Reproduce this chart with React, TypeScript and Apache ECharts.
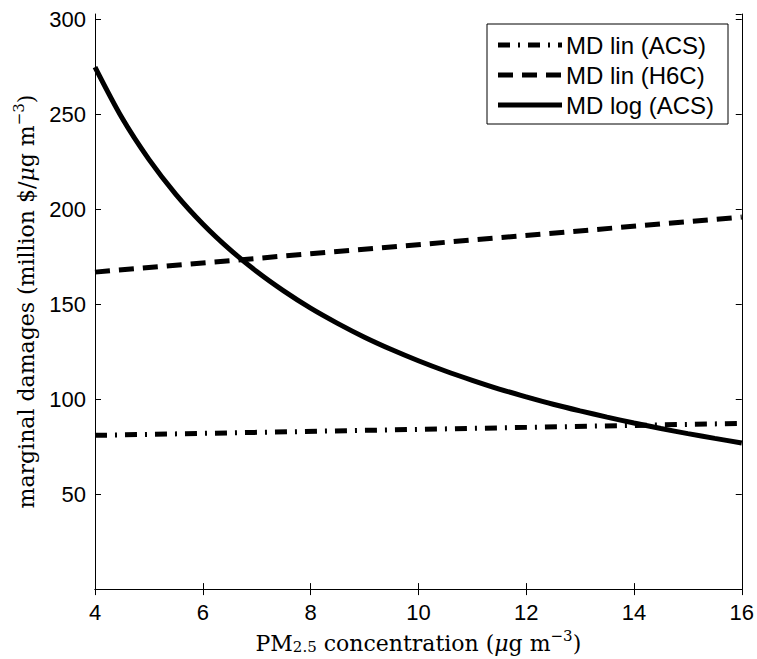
import React, { useEffect, useRef } from "react";
import * as echarts from "echarts";

const xTicks = [4, 6, 8, 10, 12, 14, 16];
const linAcsX = [4, 16];
const linAcsY = [81.0, 87.3];
const linH6cX = [4, 16];
const linH6cY = [167, 196];
const logAcsX = [4, 4.5, 5, 5.5, 6, 6.5, 7, 7.5, 8, 8.5, 9, 9.5, 10, 10.5, 11, 11.5, 12, 12.5, 13, 13.5, 14, 14.5, 15, 15.5, 16];
const logAcsY = [275, 248.3, 226.4, 208, 192.4, 179, 167.3, 157.1, 148, 140, 132.7, 126.2, 120.3, 114.9, 110, 105.4, 101.3, 97.4, 93.9, 90.6, 87.5, 84.6, 81.9, 79.4, 77];
const seriesNames = ["MD lin (ACS)", "MD lin (H6C)", "MD log (ACS)"];

const zip = (xs: number[], ys: number[]) => xs.map((x, i) => [x, ys[i]]);

const DASHDOT = [12, 8, 2, 8];
const DASHED = [15, 9];

export default function App() {
  const ref = useRef<HTMLDivElement>(null);
  useEffect(() => {
    if (!ref.current) return;
    const chart = echarts.init(ref.current, undefined, { renderer: "svg" });
    const sans = "Liberation Sans";
    const serif = "DejaVu Serif";
    const tickFont = 22;
    const axisCommon = {
      axisLine: { show: true, lineStyle: { color: "#000", width: 1 } },
      axisTick: { show: true, inside: true, length: 6, lineStyle: { color: "#000", width: 1 } },
      splitLine: { show: false },
    };
    const tf = 22;
    const serifRich = {
      n: { fontFamily: serif, fontSize: tf, color: "#000", lineHeight: 26, verticalAlign: "bottom" },
      it: { fontFamily: serif, fontSize: tf, color: "#000", fontStyle: "italic", lineHeight: 26, verticalAlign: "bottom" },
      sub: { fontFamily: serif, fontSize: 15, color: "#000", lineHeight: 22, verticalAlign: "bottom" },
      sup: { fontFamily: serif, fontSize: 15, color: "#000", lineHeight: 15, verticalAlign: "top" },
    };
    const legendLeft = 487;
    const legendTop = 24;
    const rowY = [45, 75, 105];
    const styles = [DASHDOT, DASHED, null];
    const legendEls: any[] = [
      {
        type: "rect",
        shape: { x: legendLeft, y: legendTop, width: 241, height: 100 },
        style: { fill: "#fff", stroke: "#000", lineWidth: 1 },
        z: 100,
      },
    ];
    seriesNames.forEach((nm, i) => {
      legendEls.push({
        type: "line",
        shape: { x1: legendLeft + 11, y1: rowY[i], x2: legendLeft + 75, y2: rowY[i] },
        style: { stroke: "#000", lineWidth: 5, lineDash: styles[i] || undefined, lineCap: "butt" },
        z: 101,
      });
      legendEls.push({
        type: "text",
        x: legendLeft + 79,
        y: rowY[i],
        style: { text: nm, fontFamily: sans, fontSize: 24, fill: "#000", verticalAlign: "middle", align: "left" },
        z: 101,
      });
    });
    chart.setOption({
      animation: false,
      backgroundColor: "#fff",
      grid: { left: 95, right: 15, top: 14, bottom: 65, containLabel: false },
      xAxis: [
        {
          type: "value",
          min: xTicks[0],
          max: xTicks[xTicks.length - 1],
          interval: 2,
          ...axisCommon,
          axisLabel: { fontFamily: sans, fontSize: tickFont, color: "#000", margin: 12 },
          name: "{n|PM}{sub|2.5}{n| concentration (}{it|μ}{n|g m}{sup|−3}{n|)}",
          nameLocation: "middle",
          nameGap: 34,
          nameTextStyle: { rich: serifRich },
        },
        {
          type: "value",
          position: "top",
          min: xTicks[0],
          max: xTicks[xTicks.length - 1],
          interval: 2,
          ...axisCommon,
          axisLabel: { show: false },
        },
      ],
      yAxis: [
        {
          type: "value",
          min: 0,
          max: 303,
          interval: 50,
          ...axisCommon,
          axisLabel: { fontFamily: sans, fontSize: tickFont, color: "#000", margin: 9, showMinLabel: false, showMaxLabel: false },
          name: "{n|marginal damages (million $/}{it|μ}{n|g m}{sup|−3}{n|)}",
          nameLocation: "middle",
          nameRotate: 90,
          nameGap: 58,
          nameTextStyle: { rich: serifRich },
        },
        {
          type: "value",
          position: "right",
          min: 0,
          max: 303,
          interval: 50,
          ...axisCommon,
          axisLabel: { show: false },
        },
      ],
      graphic: legendEls,
      series: [
        {
          name: seriesNames[0],
          type: "line",
          data: zip(linAcsX, linAcsY),
          showSymbol: false,
          symbol: "none",
          lineStyle: { color: "#000", width: 5, type: DASHDOT, cap: "butt" },
        },
        {
          name: seriesNames[1],
          type: "line",
          data: zip(linH6cX, linH6cY),
          showSymbol: false,
          symbol: "none",
          lineStyle: { color: "#000", width: 5, type: DASHED, cap: "butt" },
        },
        {
          name: seriesNames[2],
          type: "line",
          data: zip(logAcsX, logAcsY),
          showSymbol: false,
          symbol: "none",
          smooth: 0.3,
          lineStyle: { color: "#000", width: 5, type: "solid" },
        },
      ],
    });
    return () => chart.dispose();
  }, []);
  return <div ref={ref} style={{ width: 757, height: 659, position: "absolute", left: 0, top: 0 }} />;
}
